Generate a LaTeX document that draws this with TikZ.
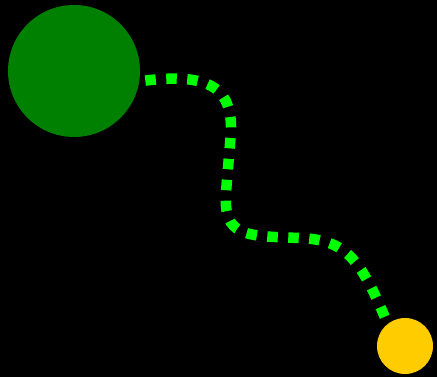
\documentclass[tikz,border=0pt]{standalone}
\definecolor{bigGreen}{HTML}{008000}
\definecolor{dashLime}{HTML}{00FF00}
\definecolor{sunYellow}{HTML}{FFCC00}
\begin{document}
\begin{tikzpicture}[x=1pt,y=1pt,
  ball/.style={circle,inner sep=0pt,draw=none},
  link/.style={draw=dashLime,line width=10.5pt,dash pattern=on 10.5pt off 10.5pt}]
\fill[black] (0,0) rectangle (437,377);
\useasboundingbox (0,0) rectangle (437,377);
\node[ball,fill=bigGreen,minimum size=132pt] (g) at (74,306) {};
\node[ball,fill=sunYellow,minimum size=56pt] (s) at (405,31) {};
\coordinate (a) at (231,245);
\coordinate (b) at (226,185);
\coordinate (c) at (300,139);
\draw[link,shorten <=6pt] (g.-9) .. controls (215,305) and (232,285) .. (a) -- (b)
  .. controls (223,140) and (245,141) .. (c)
  .. controls (345,137) and (360,120) .. (s.128);
\end{tikzpicture}
\end{document}
